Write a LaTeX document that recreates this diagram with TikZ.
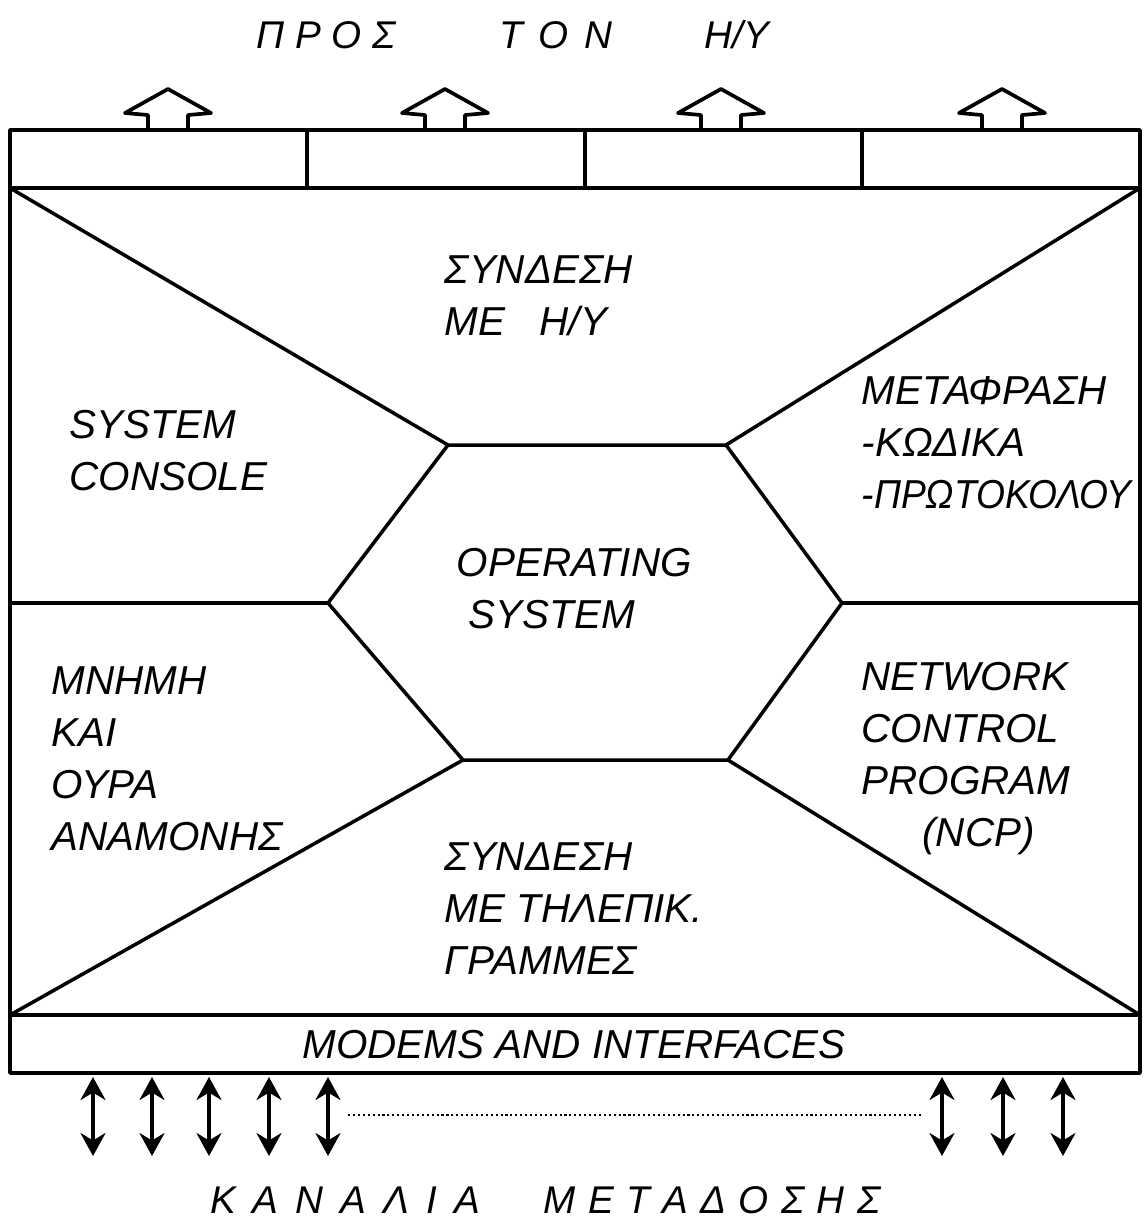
\documentclass[tikz,border=0pt]{standalone}
\usepackage{fontspec}
\setmainfont{Liberation Sans}
\usetikzlibrary{arrows.meta}
\newcommand\lsp[1]{\kern#1em}
\begin{document}
\begin{tikzpicture}[x=0.02cm,y=-0.02cm, line width=2pt, line join=round,
  lbl/.style={font=\fontsize{23}{29.6}\selectfont\itshape, inner sep=0pt, align=left, anchor=west},
  ttl/.style={font=\fontsize{22}{26}\selectfont\itshape, inner sep=0pt},
  uparr/.style={line width=2.1pt},
  dbl/.style={line width=2pt, {Stealth[length=0.46cm,width=0.5cm,inset=0.15cm]}-{Stealth[length=0.46cm,width=0.5cm,inset=0.15cm]}},
  dots/.style={line width=0.9pt, dash pattern=on 1.2pt off 1.6pt}]
\useasboundingbox (0,0) rectangle (1144,1232);

% frame coordinates
\coordinate (otl) at (10,130);
\coordinate (obr) at (1140,1073);
\coordinate (btl) at (10,188);
\coordinate (btr) at (1140,188);
\coordinate (mbl) at (10,1015);
\coordinate (mbr) at (1140,1015);
\coordinate (ml) at (10,603);
\coordinate (mr) at (1140,603);
\coordinate (d1t) at (307,130); \coordinate (d1b) at (307,188);
\coordinate (d2t) at (585,130); \coordinate (d2b) at (585,188);
\coordinate (d3t) at (862,130); \coordinate (d3b) at (862,188);
% hexagon
\coordinate (h1) at (448,445);
\coordinate (h2) at (726,445);
\coordinate (h3) at (842,603);
\coordinate (h4) at (728,760);
\coordinate (h5) at (463,760);
\coordinate (h6) at (328,603);

\draw (otl) rectangle (obr);
\draw (btl) -- (btr);
\draw (mbl) -- (mbr);
\draw (d1t) -- (d1b);
\draw (d2t) -- (d2b);
\draw (d3t) -- (d3b);
\draw (h1) -- (h2) -- (h3) -- (h4) -- (h5) -- (h6) -- cycle;
\draw (btl) -- (h1);
\draw (btr) -- (h2);
\draw (mbl) -- (h5);
\draw (mbr) -- (h4);
\draw (ml) -- (h6);
\draw (mr) -- (h3);

% outline arrows on top
\foreach \c in {168,445,721,1002}
  \draw[uparr] (\c-20,130) -- (\c-20,115) -- (\c-43,113) -- (\c,89) -- (\c+43,113) -- (\c+20,115) -- (\c+20,130);

% double arrows at the bottom
\foreach \x in {93,152,209,269,328,942,1003,1063}
  \draw[dbl] (\x,1077) -- (\x,1156);
\coordinate (dl) at (348,1115);
\coordinate (dr) at (922,1115);
\draw[dots] (dl) -- (dr);

% texts
\node[ttl] (t1) at (326,35) {Π\lsp{.28}Ρ\lsp{.28}Ο\lsp{.28}Σ};
\node[ttl] (t2) at (556,35) {Τ\lsp{.4}Ο\lsp{.4}Ν};
\node[ttl] (t3) at (737,35) {Η/Υ};
\node[ttl] (b1) at (345,1200) {Κ\lsp{.44}Α\lsp{.44}Ν\lsp{.44}Α\lsp{.44}Λ\lsp{.44}Ι\lsp{.44}Α};
\node[ttl] (b2) at (712,1200) {Μ\lsp{.32}Ε\lsp{.32}Τ\lsp{.32}Α\lsp{.32}Δ\lsp{.32}Ο\lsp{.32}Σ\lsp{.32}Η\lsp{.32}Σ};

\node[lbl] (syn1) at (443,296) {ΣΥΝΔΕΣΗ\\ΜΕ\hspace{0.85em}Η/Υ};
\node[lbl] (cons) at (68,451) {SYSTEM\\CONSOLE};
\node[lbl] (metaf) at (860,443) {ΜΕΤΑΦΡΑΣΗ\\-ΚΩΔΙΚΑ\\\scalebox{0.92}[1]{-ΠΡΩΤΟΚΟΛΟΥ}};
\node[lbl] (os) at (455,589) {OPERATING\\\hspace*{0.3em}SYSTEM};
\node[lbl] (mnim) at (50,759) {ΜΝΗΜΗ\\ΚΑΙ\\ΟΥΡΑ\\ΑΝΑΜΟΝΗΣ};
\node[lbl] (ncp) at (860,759) {NETWORK\\CONTROL\\PROGRAM\\\hspace*{1.5em}(NCP)};
\node[lbl] (syn2) at (443,909) {ΣΥΝΔΕΣΗ\\ΜΕ ΤΗΛΕΠΙΚ.\\ΓΡΑΜΜΕΣ};
\node[lbl, anchor=center] (modem) at (574,1045) {MODEMS AND INTERFACES};
\end{tikzpicture}
\end{document}
